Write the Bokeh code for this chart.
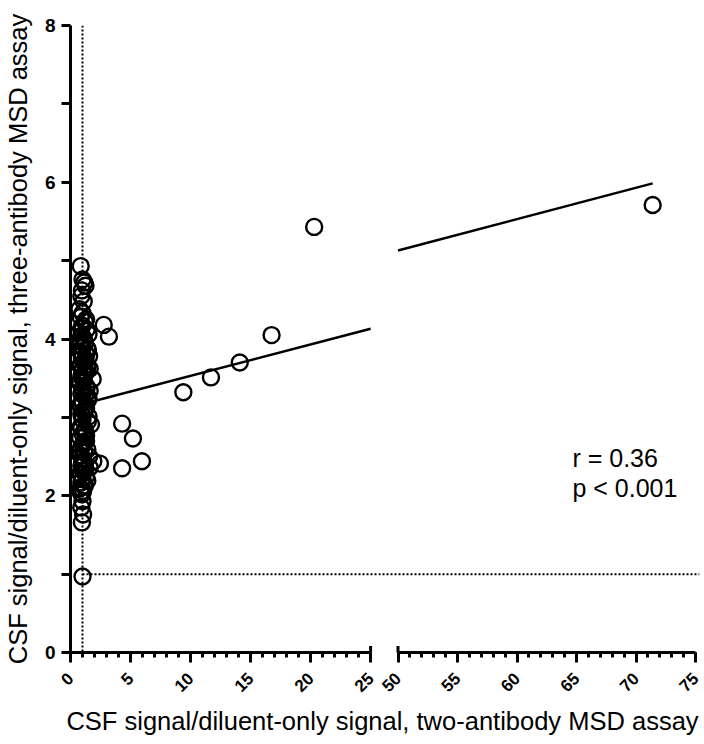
import numpy as np
from bokeh.plotting import figure
from bokeh.models import Range1d, FixedTicker, Span, Label
from bokeh.layouts import column, row
from bokeh.embed import file_html
from bokeh.resources import INLINE

# ---------------- data ----------------
cluster_x = [0.85, 1.0, 1.15, 1.25, 0.95, 0.9, 1.1, 0.75, 1.0, 0.85,
             1.2, 1.0, 1.35, 0.7, 0.9, 1.1,
             0.8, 1.2, 1.0, 1.45, 0.85, 1.3, 1.55, 0.95, 1.1, 0.8, 1.4, 1.0, 1.2, 0.9,
             1.85, 1.1, 0.8, 1.3, 1.0, 1.6, 0.9, 1.2, 1.45, 1.0, 0.8, 1.3, 1.1, 0.9, 1.5,
             1.0, 1.7, 0.85, 1.2, 1.0, 0.8, 1.3, 1.05, 0.9, 1.4, 1.15, 0.85,
             1.0, 1.9, 1.2, 0.9, 1.6, 1.05, 0.8, 1.3, 1.0, 0.9, 1.2, 0.85, 1.05, 0.95,
             1.0, 0.9, 1.05, 0.95, 1.0,
             1.3, 0.9, 1.5, 1.1, 0.8, 1.4, 1.0, 1.25, 0.9, 1.6, 1.15, 0.8, 1.35, 1.05,
             1.5, 0.85, 1.2, 1.0, 1.45, 0.9, 1.3, 1.1, 0.8, 1.55, 1.0, 1.25, 0.9, 1.4,
             1.1, 0.85, 1.3, 1.0, 1.2, 0.95]
cluster_y = [4.93, 4.76, 4.72, 4.68, 4.62, 4.55, 4.48, 4.38, 4.33, 4.28,
             4.22, 4.17, 4.12, 4.08, 4.04, 4.01,
             3.97, 3.94, 3.90, 3.86, 3.83, 3.80, 3.78, 3.75, 3.70, 3.66, 3.63, 3.60, 3.56, 3.52,
             3.49, 3.47, 3.44, 3.40, 3.37, 3.34, 3.30, 3.27, 3.22, 3.19, 3.15, 3.12, 3.08, 3.04, 3.01,
             2.97, 2.91, 2.88, 2.84, 2.79, 2.74, 2.70, 2.66, 2.62, 2.59, 2.55, 2.51,
             2.48, 2.44, 2.41, 2.38, 2.36, 2.32, 2.28, 2.25, 2.21, 2.17, 2.13, 2.10, 2.06, 2.02,
             1.93, 1.85, 1.76, 1.66, 0.97,
             4.25, 4.14, 4.06, 3.99, 3.92, 3.88, 3.81, 3.73, 3.68, 3.62, 3.54, 3.45, 3.38, 3.32,
             3.25, 3.17, 3.10, 3.02, 2.95, 2.86, 2.77, 2.68, 2.57, 2.50, 2.43, 2.34, 2.27, 2.19,
             2.12, 2.04, 3.58, 3.21, 2.81, 2.40]
outlier_x = [2.77, 3.2, 2.45, 4.3, 5.2, 5.95, 4.3, 9.4, 11.7, 14.1, 16.75, 20.3]
outlier_y = [4.18, 4.03, 2.41, 2.92, 2.73, 2.44, 2.35, 3.32, 3.51, 3.70, 4.05, 5.43]
far_x = [71.4]
far_y = [5.71]

fit_slope = 0.040
fit_intercept = 3.13
threshold_x = 1.0
threshold_y = 1.0

left_ticks = [0, 5, 10, 15, 20, 25]
right_ticks = [50, 55, 60, 65, 70, 75]
y_ticks = [0, 2, 4, 6, 8]
y_minor = [1, 3, 5, 7]

stats_lines = ["r = 0.36", "p < 0.001"]
x_title = "CSF signal/diluent-only signal, two-antibody MSD assay"
y_title = "CSF signal/diluent-only signal, three-antibody MSD assay"

FONT = "Liberation Sans"

all_x = cluster_x + outlier_x + far_x
x_min, x_max = min(all_x), max(all_x)
seg_end_left, seg_start_right = left_ticks[-1], right_ticks[0]

# ---------------- left panel (0 - 25) ----------------
p1 = figure(width=378, height=700, x_range=Range1d(0, 25.658), y_range=Range1d(0, 8),
            output_backend="svg", toolbar_location=None,
            min_border_left=66, min_border_right=0, min_border_top=25, min_border_bottom=42)
# ---------------- right panel (50 - 75) ----------------
p2 = figure(width=326, height=700, x_range=Range1d(48.361, 75.336), y_range=Range1d(0, 8),
            output_backend="svg", toolbar_location=None, y_axis_location=None,
            min_border_left=0, min_border_right=5, min_border_top=25, min_border_bottom=42)

for p in (p1, p2):
    p.grid.visible = False
    p.outline_line_color = None
    p.background_fill_color = "white"
    p.border_fill_color = "white"

# x axes
for p, ticks in ((p1, left_ticks), (p2, right_ticks)):
    ax = p.xaxis[0]
    ax.ticker = FixedTicker(ticks=ticks, minor_ticks=list(range(ticks[0], ticks[-1] + 1)))
    ax.bounds = (ticks[0], ticks[-1])
    ax.axis_line_width = 3
    ax.axis_line_color = "black"
    ax.major_tick_line_width = 3
    ax.minor_tick_line_width = 3
    ax.major_tick_out = 10
    ax.major_tick_in = 0
    ax.minor_tick_out = 5
    ax.minor_tick_in = 0
    ax.major_label_orientation = np.pi / 4
    ax.major_label_text_font = FONT
    ax.major_label_text_font_size = "17px"
    ax.major_label_text_font_style = "bold"
    ax.major_label_text_color = "black"
    ax.major_label_standoff = 13

# axis-break bars at the segment ends
p1.scatter([seg_end_left], [0], marker="dash", angle=np.pi / 2, size=13,
           line_color="black", line_width=3)
p2.scatter([seg_start_right], [0], marker="dash", angle=np.pi / 2, size=13,
           line_color="black", line_width=3)

# y axis
ya = p1.yaxis[0]
ya.ticker = FixedTicker(ticks=y_ticks, minor_ticks=y_minor)
ya.axis_line_width = 3
ya.major_tick_line_width = 3
ya.minor_tick_line_width = 3
ya.major_tick_out = 9
ya.major_tick_in = 0
ya.minor_tick_out = 9
ya.minor_tick_in = 0
ya.major_label_text_font = FONT
ya.major_label_text_font_size = "19px"
ya.major_label_text_font_style = "bold"
ya.major_label_text_color = "black"
ya.major_label_standoff = 6
ya.axis_label = y_title
ya.axis_label_text_font = FONT
ya.axis_label_text_font_size = "25.5px"
ya.axis_label_text_font_style = "normal"
ya.axis_label_text_color = "black"
ya.axis_label_standoff = 10

# threshold lines
p1.add_layout(Span(location=threshold_x, dimension="height", line_color="black",
                   line_width=2, line_dash="2 2"))
p1.segment(x0=[threshold_x], y0=[threshold_y], x1=[p1.x_range.end], y1=[threshold_y],
           line_color="black", line_width=2, line_dash="2 2")
p2.add_layout(Span(location=threshold_y, dimension="width", line_color="black",
                   line_width=2, line_dash="2 2"))

# regression line segments
fx1 = [x_min, seg_end_left]
p1.line(fx1, [fit_intercept + fit_slope * v for v in fx1], line_color="black", line_width=2.5)
fx2 = [seg_start_right, x_max]
p2.line(fx2, [fit_intercept + fit_slope * v for v in fx2], line_color="black", line_width=2.5)

# points
pt = dict(size=16, fill_color=None, line_color="black", line_width=2.4, marker="circle")
p1.scatter(cluster_x, cluster_y, **pt)
p1.scatter(outlier_x, outlier_y, **pt)
p2.scatter(far_x, far_y, **pt)

# statistics text
p2.add_layout(Label(x=64.66, y=2.48, text=stats_lines[0], text_font=FONT,
                    text_font_size="25px", text_color="black", text_baseline="alphabetic"))
p2.add_layout(Label(x=64.66, y=2.10, text=stats_lines[1], text_font=FONT,
                    text_font_size="25px", text_color="black", text_baseline="alphabetic"))

# x axis title panel spanning both segments
p3 = figure(width=704, height=44, x_range=Range1d(0, 1), y_range=Range1d(0, 1),
            output_backend="svg", toolbar_location=None,
            min_border_left=0, min_border_right=0, min_border_top=0, min_border_bottom=0)
p3.axis.visible = False
p3.grid.visible = False
p3.outline_line_color = None
p3.add_layout(Label(x=382, y=24, x_units="screen", y_units="screen", text=x_title,
                    text_font=FONT, text_font_size="25.5px", text_color="black",
                    text_align="center", text_baseline="alphabetic"))

layout = column(row(p1, p2), p3)
open("out.html", "w").write(file_html(layout, INLINE))
